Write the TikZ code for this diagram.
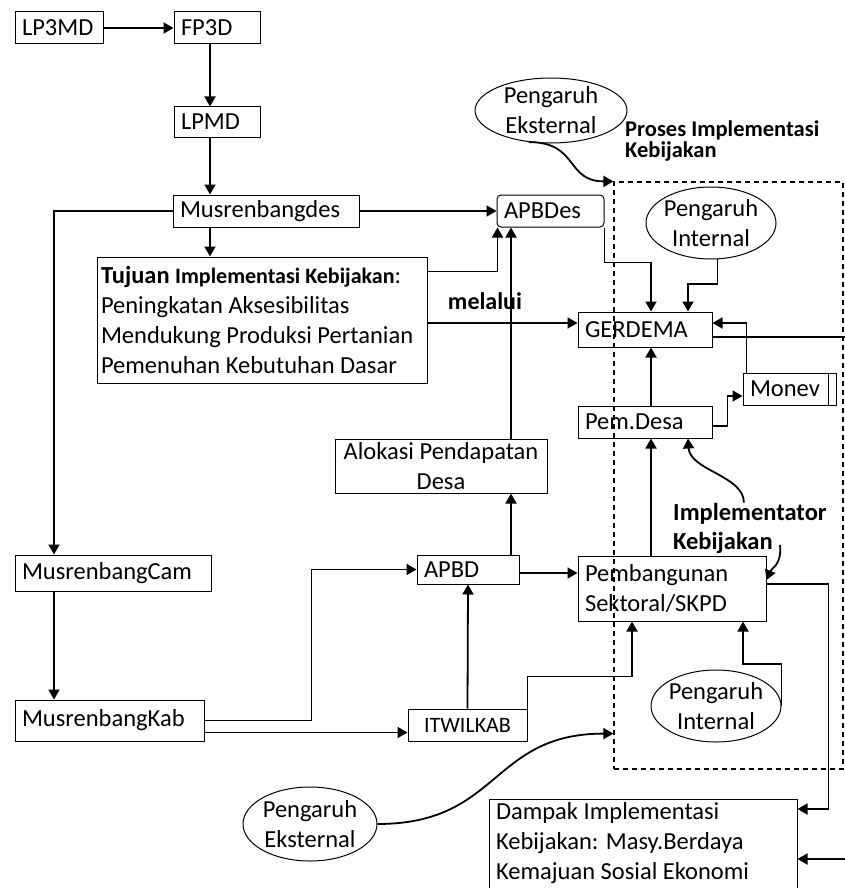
\documentclass[tikz,border=0pt]{standalone}
\usepackage{fontspec}
\setmainfont{Carlito}
\usetikzlibrary{arrows.meta,shapes.geometric}

\newcommand{\fnt}{\fontsize{24.5}{30}\selectfont}

\begin{document}
\begin{tikzpicture}[x=1pt,y=-1pt,>={Triangle[length=10pt,width=11pt]},
    box/.style={draw,line width=1pt,rectangle,align=flush left,inner xsep=7pt,inner ysep=0pt,font=\fnt},
    oval/.style={draw,line width=1pt,ellipse,align=center,inner sep=-4pt,font=\fnt},
    lbl/.style={align=flush left,inner sep=0pt,font=\bfseries},
    con/.style={line width=1.8pt}]

      \useasboundingbox (0,0) rectangle (845,888);

      % columns used by the vertical connectors
      \coordinate (colL) at (54,0);
      \coordinate (colA) at (210,0);
      \coordinate (colB) at (511,0);
      \coordinate (colC) at (651,0);
      \coordinate (rEdgeA) at (845,337);
      \coordinate (rEdgeB) at (845,859);
      \coordinate (kbEnd) at (780,545);

      \node[draw,dashed,dash pattern=on 5pt off 4pt,line width=1.2pt,inner sep=0pt,
        minimum width=229pt,minimum height=587pt] (proses) at (728.5,475.5) {};

      \begin{scope}[every node/.style={box}]
        \node[text width=74pt,minimum height=32pt] (lp3md) at (59,28) {LP3MD};
        \node[text width=72pt,minimum height=32pt] (fp3d) at (217,28) {FP3D};
        \node[text width=72pt,minimum height=30pt] (lpmd) at (217,122) {LPMD};
        \node[text width=172pt,minimum height=32pt] (mdes) at (266,211) {Musrenbangdes};
        \node[text width=322pt,inner xsep=4pt,minimum height=126pt] (tujuan) at (262,320)
          {{\bfseries Tujuan} {\bfseries\fontsize{22}{30}\selectfont Implementasi Kebijakan}:\\
           Peningkatan Aksesibilitas\\Mendukung Produksi Pertanian\\Pemenuhan Kebutuhan Dasar};
        \node[text width=93pt,minimum height=32pt,rounded corners=4pt] (apbdes) at (550.5,211) {APBDes};
        \node[text width=120pt,minimum height=35pt] (gerdema) at (645,329.5) {GERDEMA};
        \node[text width=79pt,minimum height=32pt] (monev) at (789.5,389) {Monev};
        \node[text width=120pt,minimum height=32pt] (pemdesa) at (645,422) {Pem.Desa};
        \node[text width=208pt,inner xsep=2pt,minimum height=54pt,align=flush center] (alokasi) at (441,466) {Alokasi Pendapatan\\Desa};
        \node[text width=88pt,minimum height=29pt] (apbd) at (468,569.5) {APBD};
        \node[text width=174pt,minimum height=65pt] (pemb) at (672,588.5) {Pembangunan\\Sektoral/SKPD};
        \node[text width=182pt,minimum height=36pt] (mcam) at (113,573) {MusrenbangCam};
        \node[text width=175pt,minimum height=41pt] (mkab) at (109.5,720.5) {MusrenbangKab};
        \node[text width=105pt,minimum height=32pt,align=flush center,font=\fontsize{22}{26}\selectfont] (itwil) at (467.5,725) {ITWILKAB};
        \node[text width=294pt,anchor=north,inner ysep=3pt] (dampak) at (643,799)
          {Dampak Implementasi\\Kebijakan: Masy.Berdaya\\Kemajuan Sosial Ekonomi\rule[-25pt]{0pt}{25pt}};
      \end{scope}
      \draw[line width=1pt] ([xshift=-8pt]monev.north east) -- ([xshift=-8pt]monev.south east);

      \begin{scope}[every node/.style={oval}]
        \node[minimum width=152pt,minimum height=65pt] (peEks1) at (551,110.5) {Pengaruh\\Eksternal};
        \node[minimum width=130pt,minimum height=72pt] (peInt1) at (711,223) {Pengaruh\\Internal};
        \node[minimum width=130pt,minimum height=72pt] (peInt2) at (716,706) {Pengaruh\\Internal};
        \node[minimum width=134pt,minimum height=74pt] (peEks2) at (310,824) {Pengaruh\\Eksternal};
      \end{scope}

      \node[lbl,anchor=west,font=\fontsize{22.5}{21}\selectfont\bfseries] (proc) at (625,141) {Proses Implementasi\\Kebijakan};
      \node[lbl,font=\fontsize{24}{29}\selectfont\bfseries] (via) at (485,301) {melalui};
      \node[lbl,anchor=west,font=\fontsize{24.5}{29}\selectfont\bfseries] (impl) at (673,528) {Implementator\\Kebijakan};

      \begin{scope}[con]
        \draw[->] (lp3md) -- (fp3d);
        \draw[->] (fp3d.south -| colA) -- (lpmd.north -| colA);
        \draw[->] (lpmd.south -| colA) -- (mdes.north -| colA);
        \draw[->] (mdes.south -| colA) -- (tujuan.north -| colA);
        \draw[->] (mdes.west) -| (mcam.north -| colL);
        \draw[->] (mcam.south -| colL) -- (mkab.north -| colL);
        \draw[->] (mkab.east) -- ++(107,0) |- (apbd.west);
        \draw[->] ([yshift=-12pt]mkab.east) coordinate (k2) -- (k2 -| itwil.west);
        \draw[->] (itwil.north) -- (apbd.south);
        \draw[->] (itwil.north east) -- ++(0,-32) -| ([xshift=-40pt]pemb.south);
        \draw[->] (apbd.north -| colB) -- (alokasi.south -| colB);
        \draw[->] (alokasi.north -| colB) -- (apbdes.south -| colB);
        \draw[->] ([yshift=-3.5pt]apbd.east) coordinate (a2) -- (a2 -| pemb.west);
        \draw[->] (mdes) -- (apbdes);
        \draw[->] ([yshift=-15pt]tujuan.north east) -| ([xshift=1pt]apbdes.south west);
        \draw[->] ([yshift=-3pt]tujuan.east) coordinate (t2) -- (t2 -| gerdema.west);
        \draw[->] (apbdes.south east) -- ++(0,35) -| (gerdema.north -| colC);
        \draw[->] (peInt1.-80) -- ++(0,25) -| ([xshift=43pt]gerdema.north);
        \draw[->] (pemdesa.north -| colC) -- (gerdema.south -| colC);
        \draw[->] (pemb.north -| colC) -- (pemdesa.south -| colC);
        \draw[->] ([yshift=-4pt]pemdesa.east) -- ++(15,0) |- ([yshift=-7pt]monev.west);
        \draw[->] ([xshift=4pt]monev.north west) |- ([yshift=6.5pt]gerdema.east);
        \draw ([yshift=-7.5pt]gerdema.east) -- (rEdgeA);
        \draw[->] ([yshift=4.5pt]pemb.east) -- ++(62,0) |- ([yshift=-10pt]dampak.north east);
        \draw[->] (rEdgeB) -- (rEdgeB -| dampak.east);
        \draw[->] (peInt2.east) -- ++(0,-42) -| ([xshift=71pt]pemb.south);
        \draw[->] (peEks1.-125) .. controls +(50,0) and +(-48,0) .. (proses.north west);
        \draw[->] (peEks2.east) .. controls +(123,0) and +(-123,0) .. ([yshift=36pt]proses.south west);
        \draw[->] ([xshift=-6pt]impl.north) .. controls +(0,-27) and +(2,32) .. ([xshift=43pt]pemdesa.south);
        \draw[->] (kbEnd) .. controls +(2,20) and +(5,-12) .. ([yshift=8.5pt]pemb.east);
      \end{scope}

    \end{tikzpicture}
\end{document}
